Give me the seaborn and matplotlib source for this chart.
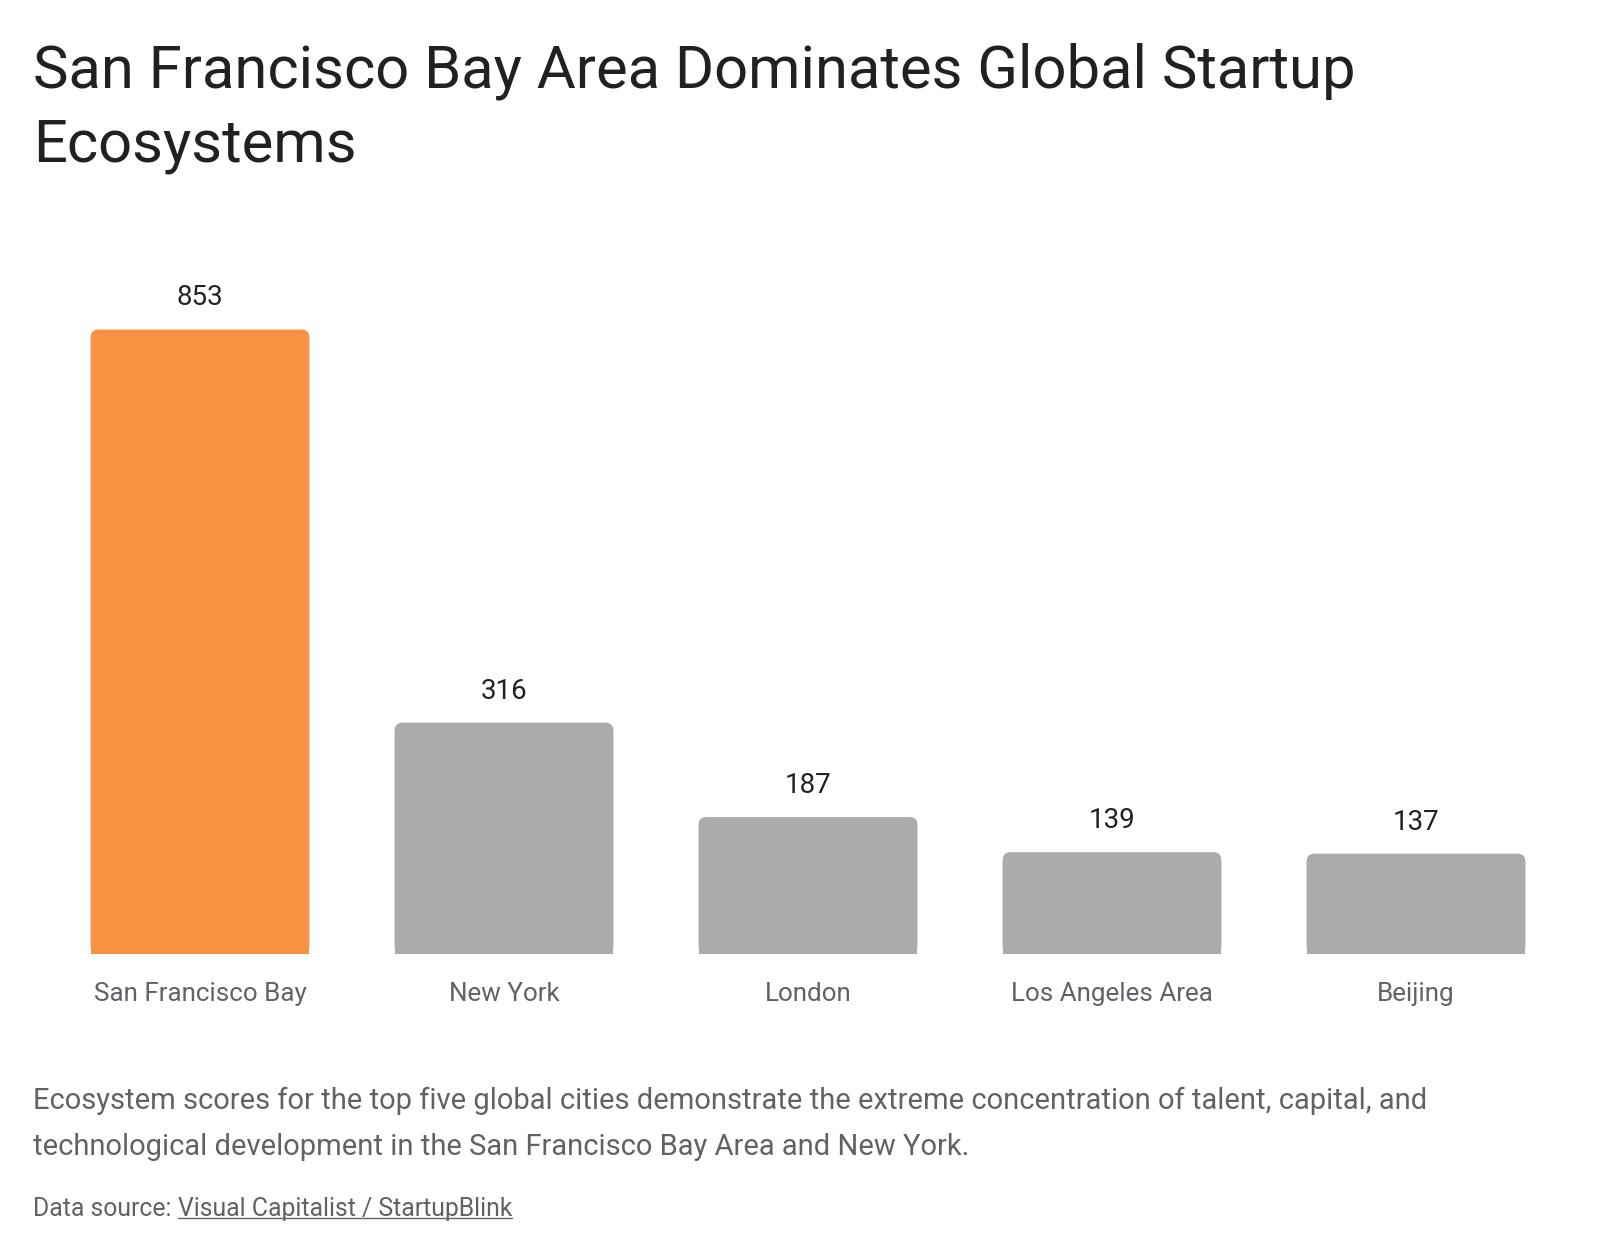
import matplotlib
matplotlib.use("Agg")
import matplotlib.pyplot as plt
import seaborn as sns
import pandas as pd
from matplotlib.patches import FancyBboxPatch
from matplotlib.lines import Line2D

# data
cities = ["San Francisco Bay", "New York", "London", "Los Angeles Area", "Beijing"]
scores = [853, 316, 187, 139, 137]
bar_colors = ["#F99142", "#ABABAB", "#ABABAB", "#ABABAB", "#ABABAB"]

title = "San Francisco Bay Area Dominates Global Startup\nEcosystems"
caption = ("Ecosystem scores for the top five global cities demonstrate the extreme concentration of talent, capital, and\n"
           "technological development in the San Francisco Bay Area and New York.")
source_label = "Data source: "
source_link = "Visual Capitalist / StartupBlink"

df = pd.DataFrame({"city": cities, "score": scores})

sns.set_theme(style="white")
plt.rcParams["font.family"] = ["Roboto", "DejaVu Sans"]

fig = plt.figure(figsize=(16, 12.58), dpi=100)
ax = fig.add_axes([0.03, 0.2417, 0.95, 0.5586])

sns.barplot(data=df, x="city", y="score", hue="city", palette=bar_colors,
            legend=False, width=0.72, saturation=1, ax=ax)
ax.set_xlim(-0.5, 4.5)
ax.set_ylim(0, 960)

# round the top corners of the bars
rx = 0.026
ry = 11.0
for patch, col in zip(ax.patches[:len(scores)], bar_colors):
    x0, y0 = patch.get_x(), patch.get_y()
    w, h = patch.get_width(), patch.get_height()
    patch.set_height(h - ry)
    patch.set_edgecolor("none")
    rp = FancyBboxPatch((x0, y0), w, h, boxstyle=f"round,pad=0,rounding_size={rx}",
                        mutation_aspect=ry / rx, facecolor=col, edgecolor="none")
    ax.add_patch(rp)
    ax.annotate(f"{int(h)}", (x0 + w / 2, h), xytext=(0, 13), textcoords="offset points",
                ha="center", va="bottom", fontsize=20, color="#202124")

for s in ax.spines.values():
    s.set_visible(False)
ax.set_yticks([])
ax.set_xlabel("")
ax.set_ylabel("")
ax.tick_params(axis="x", length=0, pad=20, labelsize=18.7, labelcolor="#5f6368")

fig.text(0.0206, 0.966, title, fontsize=43, color="#202124", va="top", ha="left",
         linespacing=1.35)
fig.text(0.0206, 0.1067, caption, fontsize=21, color="#5f6368", va="center", ha="left",
         linespacing=1.83)
t1 = fig.text(0.0206, 0.039, source_label, fontsize=17.8, color="#5f6368", va="center", ha="left")

fig.canvas.draw()
r = fig.canvas.get_renderer()
bb = t1.get_window_extent(renderer=r).transformed(fig.transFigure.inverted())
t2 = fig.text(bb.x1, 0.039, source_link, fontsize=17.8, color="#5f6368", va="center", ha="left")
fig.canvas.draw()
bb2 = t2.get_window_extent(renderer=r).transformed(fig.transFigure.inverted())
fig.add_artist(Line2D([bb2.x0, bb2.x1], [bb2.y0 + 0.002, bb2.y0 + 0.002],
                      transform=fig.transFigure, color="#5f6368", linewidth=1))

fig.savefig("out.png", dpi=100)
